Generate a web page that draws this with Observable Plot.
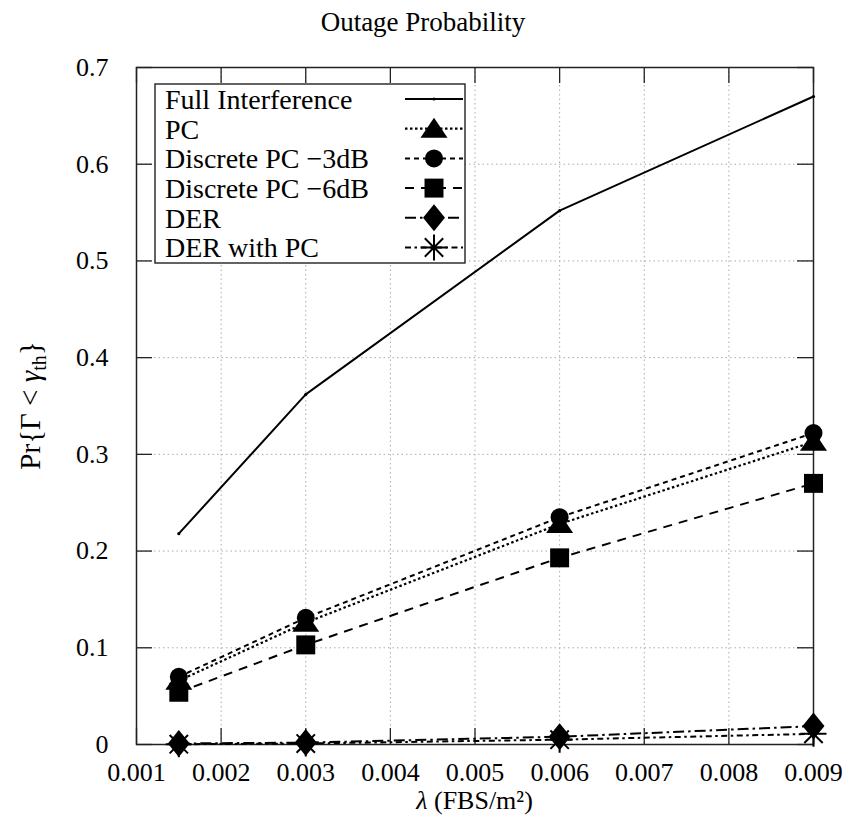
<!DOCTYPE html>
<html>
<head>
<meta charset="utf-8">
<script src="https://cdn.jsdelivr.net/npm/d3@7"></script>
<script src="https://cdn.jsdelivr.net/npm/@observablehq/plot@0.6"></script>
<style>
  body { margin: 0; background: #fff; }
  #chart svg { display: block; }
</style>
</head>
<body>
<div id="chart"></div>
<script>
// ---- data ----
const lambdaValues = [0.0015, 0.003, 0.006, 0.009];
const seriesNames = ["Full Interference", "PC", "Discrete PC \u22123dB", "Discrete PC \u22126dB", "DER", "DER with PC"];
const fullInterference = [0.218, 0.362, 0.552, 0.670];
const pcValues = [0.066, 0.126, 0.228, 0.313];
const discrete3dB = [0.070, 0.131, 0.235, 0.322];
const discrete6dB = [0.054, 0.103, 0.193, 0.270];
const derValues = [0.001, 0.002, 0.008, 0.019];
const derWithPc = [0.0003, 0.001, 0.005, 0.011];
const xTicks = [0.001, 0.002, 0.003, 0.004, 0.005, 0.006, 0.007, 0.008, 0.009];
const xTickLabels = ["0.001", "0.002", "0.003", "0.004", "0.005", "0.006", "0.007", "0.008", "0.009"];
const yTicks = [0, 0.1, 0.2, 0.3, 0.4, 0.5, 0.6, 0.7];
const yTickLabels = ["0", "0.1", "0.2", "0.3", "0.4", "0.5", "0.6", "0.7"];
const titleText = "Outage Probability";

// ---- custom symbols ----
const triWide = {draw(ctx, size) { const r = Math.sqrt(size / Math.PI); const w = r * 1.35, h = r;
  ctx.moveTo(0, -h * 1.1); ctx.lineTo(w, h * 0.9); ctx.lineTo(-w, h * 0.9); ctx.closePath(); }};
const diamondWide = {draw(ctx, size) { const r = Math.sqrt(size / Math.PI); const h = r * 1.5, w = r * 1.22;
  ctx.moveTo(0, -h); ctx.lineTo(w, 0); ctx.lineTo(0, h); ctx.lineTo(-w, 0); ctx.closePath(); }};
const star8 = {draw(ctx, size) { const r = Math.sqrt(size / Math.PI); const d = r * 0.7071;
  ctx.moveTo(0, -r); ctx.lineTo(0, r); ctx.moveTo(-r, 0); ctx.lineTo(r, 0);
  ctx.moveTo(-d, -d); ctx.lineTo(d, d); ctx.moveTo(-d, d); ctx.lineTo(d, -d); }};
const smallDot = {draw(ctx, size) { const r = Math.sqrt(size / Math.PI); ctx.moveTo(r, 0); ctx.arc(0, 0, r, 0, 2 * Math.PI); }};

const seriesValues = [fullInterference, pcValues, discrete3dB, discrete6dB, derValues, derWithPc];
const seriesStyle = [
  {dash: null, width: 2, symbol: smallDot, r: 1.6, fill: "#000", stroke: "none"},
  {dash: "2.5,2.5", width: 2.2, symbol: triWide, r: 10, fill: "#000", stroke: "none"},
  {dash: "5,4", width: 2, symbol: d3.symbolCircle, r: 9, fill: "#000", stroke: "none"},
  {dash: "9,7", width: 2, symbol: d3.symbolSquare, r: 10.7, fill: "#000", stroke: "none"},
  {dash: "11,4,2.5,4", width: 2, symbol: diamondWide, r: 9, fill: "#000", stroke: "none"},
  {dash: "6,3.5,2.5,3.5", width: 2, symbol: star8, r: 13, fill: "none", stroke: "#000"}
];

const rows = seriesNames.flatMap((name, i) => lambdaValues.map((x, j) => ({series: name, x, y: seriesValues[i][j]})));

const W = 846, H = 834, mL = 136, mR = 33, mT = 67, mB = 90;
const frameW = W - mL - mR, frameH = H - mT - mB;
const tickLen = 16;
const FONT = "'Liberation Serif', 'Times New Roman', serif";

const marks = [
  Plot.ruleX(xTicks, {stroke: "#aaa", strokeWidth: 1, strokeDasharray: "1.5,3"}),
  Plot.ruleY(yTicks, {stroke: "#aaa", strokeWidth: 1, strokeDasharray: "1.5,3"}),
  Plot.ruleX(xTicks, {insetTop: frameH - tickLen, stroke: "#222", strokeWidth: 1.3}),
  Plot.ruleX(xTicks, {insetBottom: frameH - tickLen, stroke: "#222", strokeWidth: 1.3}),
  Plot.ruleY(yTicks, {insetRight: frameW - tickLen, stroke: "#222", strokeWidth: 1.3}),
  Plot.ruleY(yTicks, {insetLeft: frameW - tickLen, stroke: "#222", strokeWidth: 1.3}),
  Plot.frame({stroke: "#222", strokeWidth: 1.5})
];
seriesNames.forEach((name, i) => {
  const s = seriesStyle[i];
  const data = rows.filter(d => d.series === name);
  marks.push(Plot.line(data, {x: "x", y: "y", stroke: "#000", strokeWidth: s.width, strokeDasharray: s.dash, strokeLinecap: "butt"}));
});
seriesNames.forEach((name, i) => {
  const s = seriesStyle[i];
  const data = rows.filter(d => d.series === name);
  marks.push(Plot.dot(data, {x: "x", y: "y", symbol: s.symbol, r: s.r, fill: s.fill, stroke: s.stroke, strokeWidth: 2}));
});

const plot = Plot.plot({
  width: W, height: H,
  marginLeft: mL, marginRight: mR, marginTop: mT, marginBottom: mB,
  style: {fontFamily: FONT, fontSize: "26px", color: "#000", background: "#fff", overflow: "visible"},
  x: {domain: [0.001, 0.009], ticks: xTicks, tickFormat: (d) => xTickLabels[xTicks.indexOf(d)], tickSize: 0, tickPadding: 18, label: null},
  y: {domain: [0, 0.7], ticks: yTicks, tickFormat: (d) => yTickLabels[yTicks.findIndex(t => Math.abs(t - d) < 1e-9)], tickSize: 0, tickPadding: 28, label: null},
  marks
});
document.getElementById("chart").appendChild(plot);

const svg = d3.select(plot);
// Title (centred on the whole canvas, as in the reference)
svg.append("text").attr("x", W / 2).attr("y", 22).attr("dy", "0.35em")
  .attr("text-anchor", "middle").attr("font-family", FONT).attr("font-size", 27).attr("fill", "#000")
  .text(titleText);

// Axis labels
const yl = svg.append("text")
  .attr("transform", `translate(30, ${mT + frameH / 2}) rotate(-90)`)
  .attr("text-anchor", "middle").attr("dy", "0.35em")
  .attr("font-family", FONT).attr("font-size", 29).attr("fill", "#000");
yl.append("tspan").text("Pr{\u0393 < ");
yl.append("tspan").attr("font-style", "italic").text("\u03B3");
yl.append("tspan").attr("font-size", 20).attr("dy", 6).text("th");
yl.append("tspan").attr("dy", -6).text("}");

const xl = svg.append("text")
  .attr("x", mL + frameW / 2).attr("y", H - mB + 56)
  .attr("text-anchor", "middle").attr("dy", "0.35em")
  .attr("font-family", FONT).attr("font-size", 26).attr("fill", "#000");
xl.append("tspan").attr("font-style", "italic").text("\u03BB");
xl.append("tspan").text(" (FBS/m\u00B2)");

// Legend
const lg = svg.append("g");
lg.append("rect").attr("x", 155).attr("y", 84).attr("width", 310).attr("height", 179)
  .attr("fill", "#fff").attr("stroke", "#222").attr("stroke-width", 1.4);
seriesNames.forEach((name, i) => {
  const s = seriesStyle[i];
  const cy = 99 + i * 29.7;
  lg.append("text").attr("x", 165).attr("y", cy).attr("dy", "0.35em")
    .attr("text-anchor", "start")
    .attr("font-family", FONT).attr("font-size", 28).attr("fill", "#000").text(name);
  lg.append("line").attr("x1", 405).attr("x2", 463).attr("y1", cy).attr("y2", cy)
    .attr("stroke", "#000").attr("stroke-width", s.width).attr("stroke-dasharray", s.dash);
  lg.append("path").attr("d", d3.symbol(s.symbol, Math.PI * s.r * s.r)())
    .attr("transform", `translate(434, ${cy})`)
    .attr("fill", s.fill).attr("stroke", s.stroke).attr("stroke-width", 2);
});
</script>
</body>
</html>
